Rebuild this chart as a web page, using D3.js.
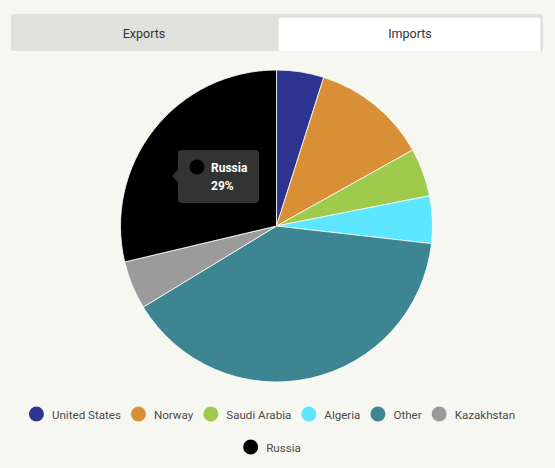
<!DOCTYPE html>
<meta charset="utf-8">
<style type="text/css">
    body {
        margin: 0;
        background: #f7f7f2;
        font-family: Roboto, sans-serif;
    }
    svg {
        display: block;
    }
</style>
<svg id="chart" width="555" height="468"></svg>
<script src="https://cdn.jsdelivr.net/npm/d3@7/dist/d3.min.js" type="text/javascript"></script>
<script type="text/javascript">
    var countries = ["United States", "Norway", "Saudi Arabia", "Algeria", "Other", "Kazakhstan", "Russia"];
    var shares = [4.9, 12.0, 5.0, 4.9, 39.5, 5.0, 28.7];
    var colors = ["#2e3590", "#d98f36", "#9ecb4b", "#5ce6ff", "#3d8593", "#9b9b9b", "#000000"];
    var tabs = ["Exports", "Imports"];
    var activeTab = 1;
    var hovered = "Russia";

    var width = 555;
    var height = 468;
    var svg = d3.select("#chart");

    var data = countries.map((c, i) => ({ name: c, value: shares[i] }));
    var color = d3.scaleOrdinal().domain(countries).range(colors);

    // tabs
    var tabX = d3.scaleBand().domain(tabs).range([11, 543]).paddingInner(0);
    svg.append("rect")
        .attr("x", 11).attr("y", 14)
        .attr("width", 532).attr("height", 37)
        .attr("rx", 3)
        .attr("fill", "#e0e0dc");
    var tab = svg.selectAll("g.tab").data(tabs).enter().append("g").attr("class", "tab");
    tab.filter((d, i) => i == activeTab).append("path")
        .attr("d", d => {
            var x0 = tabX(d) + 1, x1 = tabX(d) + tabX.bandwidth() - 2;
            return "M" + x0 + ",51V20q0,-3 3,-3H" + (x1 - 3) + "q3,0 3,3V51";
        })
        .attr("fill", "#ffffff")
        .attr("stroke", "#dcdcd8")
        .attr("stroke-width", 1);
    tab.append("text")
        .attr("x", d => tabX(d) + tabX.bandwidth() / 2)
        .attr("y", 38)
        .attr("text-anchor", "middle")
        .attr("font-size", 12.5)
        .attr("fill", "#333")
        .text(d => d);

    // pie
    var cx = 276.5, cy = 226, radius = 156;
    var pie = d3.pie().value(d => d.value).sort(null);
    var arc = d3.arc().innerRadius(0).outerRadius(radius);
    var arcs = pie(data);
    var g = svg.append("g").attr("transform", "translate(" + cx + "," + cy + ")");
    g.selectAll("path").data(arcs).enter().append("path")
        .attr("d", arc)
        .attr("fill", d => color(d.data.name))
        .attr("stroke", "#ffffff")
        .attr("stroke-opacity", 0.8)
        .attr("stroke-width", 1);

    // tooltip
    var tip = data.find(d => d.name == hovered);
    var tx = 178, ty = 150, tw = 81, th = 53;
    var tg = svg.append("g");
    tg.append("path")
        .attr("d", "M" + (tx + 4) + "," + ty + "H" + (tx + tw - 4) + "q4,0 4,4V" + (ty + th - 4) + "q0,4 -4,4H" + (tx + 4)
            + "q-4,0 -4,-4V" + (ty + 32) + "l-6,-6l6,-6V" + (ty + 4) + "q0,-4 4,-4Z")
        .attr("fill", "#333333");
    tg.append("circle")
        .attr("cx", tx + 19).attr("cy", ty + 17).attr("r", 7.5)
        .attr("fill", color(tip.name));
    tg.append("text")
        .attr("x", tx + 33).attr("y", ty + 22)
        .attr("fill", "#ffffff").attr("font-size", 12).attr("font-weight", "bold")
        .text(tip.name);
    tg.append("text")
        .attr("x", tx + 33).attr("y", ty + 40)
        .attr("fill", "#ffffff").attr("font-size", 12).attr("font-weight", "bold")
        .text(d3.format(".0f")(tip.value) + "%");

    // legend, wrapped and centred
    var legend = svg.append("g");
    var items = legend.selectAll("g").data(countries).enter().append("g");
    items.append("circle").attr("r", 7.5).attr("cx", 7.5).attr("cy", 0).attr("fill", d => color(d));
    items.append("text")
        .attr("x", 23).attr("y", 4.5)
        .attr("font-size", 11.6)
        .attr("fill", "#4a4a4a")
        .text(d => d);
    var rows = [[]], rowW = [0], maxW = 500, gap = 10;
    items.each(function (d) {
        var w = 23 + this.querySelector("text").getComputedTextLength();
        var r = rows.length - 1;
        var nw = rowW[r] + (rows[r].length ? gap : 0) + w;
        if (rows[r].length && nw > maxW) {
            rows.push([]); rowW.push(0); r++;
            nw = w;
        }
        rows[r].push({ node: this, w: w });
        rowW[r] = nw;
    });
    rows.forEach((row, r) => {
        var x = 272 - rowW[r] / 2;
        row.forEach(it => {
            d3.select(it.node).attr("transform", "translate(" + x + "," + (414 + r * 33) + ")");
            x += it.w + gap;
        });
    });
</script>
